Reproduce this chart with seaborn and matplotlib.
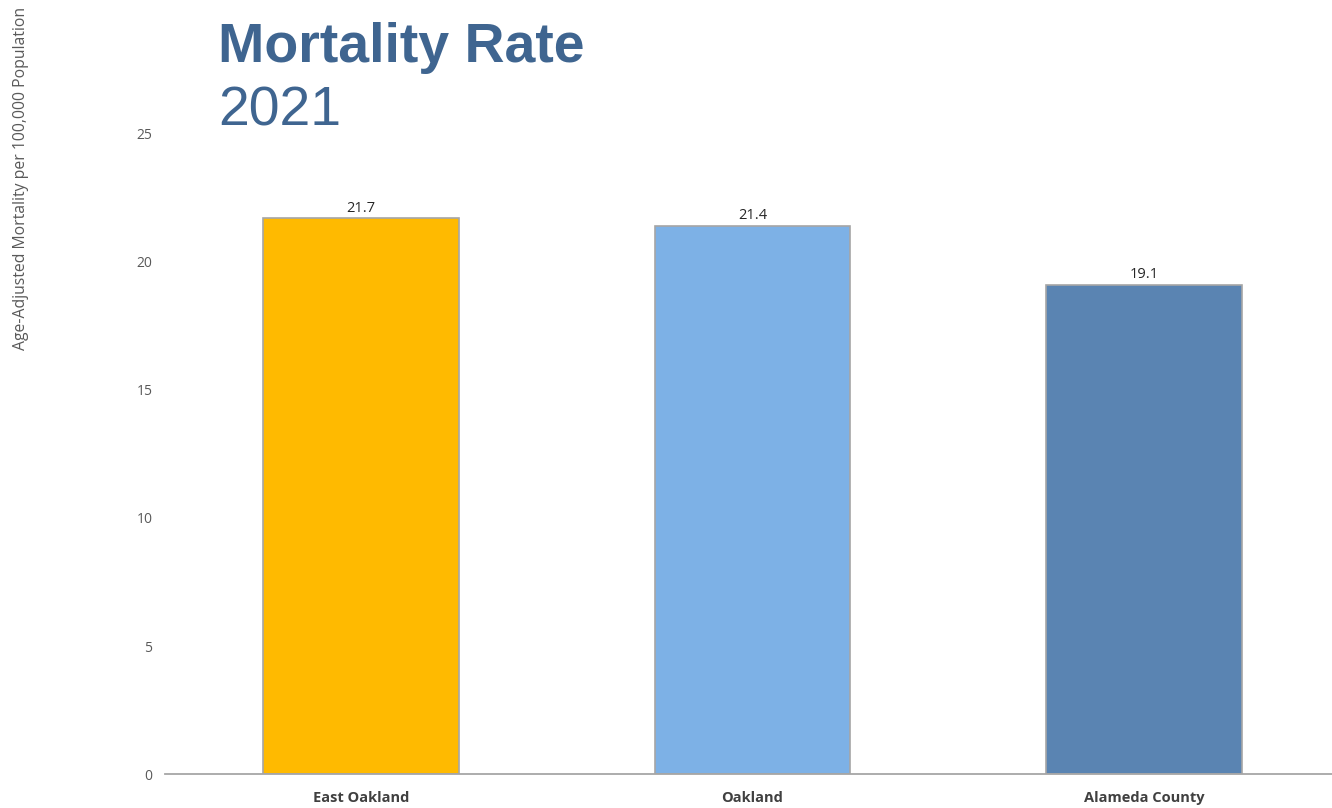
import matplotlib
matplotlib.use("Agg")
import matplotlib.pyplot as plt
import seaborn as sns
import pandas as pd

categories = ["East Oakland", "Oakland", "Alameda County"]
values = [21.7, 21.4, 19.1]
colors = ["#FFBA00", "#7DB1E6", "#5A84B2"]
yticks = [0, 5, 10, 15, 20, 25]
title_mid = "Mortality Rate"
title_year = "2021"
ylabel = "Age-Adjusted Mortality per 100,000 Population"

sns.set_theme(style="white")
plt.rcParams["font.family"] = ["Liberation Sans", "DejaVu Sans"]

df = pd.DataFrame({"cat": categories, "val": values})

fig = plt.figure(figsize=(13.32, 8.08), dpi=100)
ax = fig.add_axes([165/1332, 1-774/808, (1340-165)/1332, (774-134)/808])

sns.barplot(data=df, x="cat", y="val", hue="cat", palette=colors, order=categories,
            hue_order=categories, width=0.5, edgecolor="#a6a6a6", linewidth=1.2,
            legend=False, ax=ax, saturation=1)

ax.set_ylim(0, 25)
ax.set_xlim(-0.5, 2.5)
ax.set_yticks(yticks)
ax.set_yticklabels([str(t) for t in yticks], fontsize=10, color="#595959", family="Open Sans")
ax.set_xticks(range(len(categories)))
ax.set_xticklabels(categories, fontsize=10.5, color="#404040", fontweight="bold", family="Open Sans")
ax.tick_params(axis="y", length=0, pad=9)
ax.tick_params(axis="x", length=0, pad=12)
ax.set_xlabel("")
ax.set_ylabel("")
for s in ["top", "right", "left"]:
    ax.spines[s].set_visible(False)
ax.spines["bottom"].set_color("#a6a6a6")
ax.spines["bottom"].set_linewidth(1.3)

for i, v in enumerate(values):
    ax.annotate(f"{v}", (i, v), xytext=(0, 2), textcoords="offset points",
                ha="center", va="bottom", fontsize=10.5, color="#262626", family="Open Sans")

fig.text(21/1332, 1-178/808, ylabel, rotation=90, ha="center", va="center",
         fontsize=11.3, color="#595959", family="Open Sans")

tcol = "#3F6590"
fig.text(218/1332, 1-62/808, title_mid, fontsize=40, fontweight="bold", color=tcol,
         ha="left", va="baseline")
fig.text(218/1332, 1-125/808, title_year, fontsize=40, color=tcol,
         ha="left", va="baseline")

fig.savefig("out.png", dpi=100)
